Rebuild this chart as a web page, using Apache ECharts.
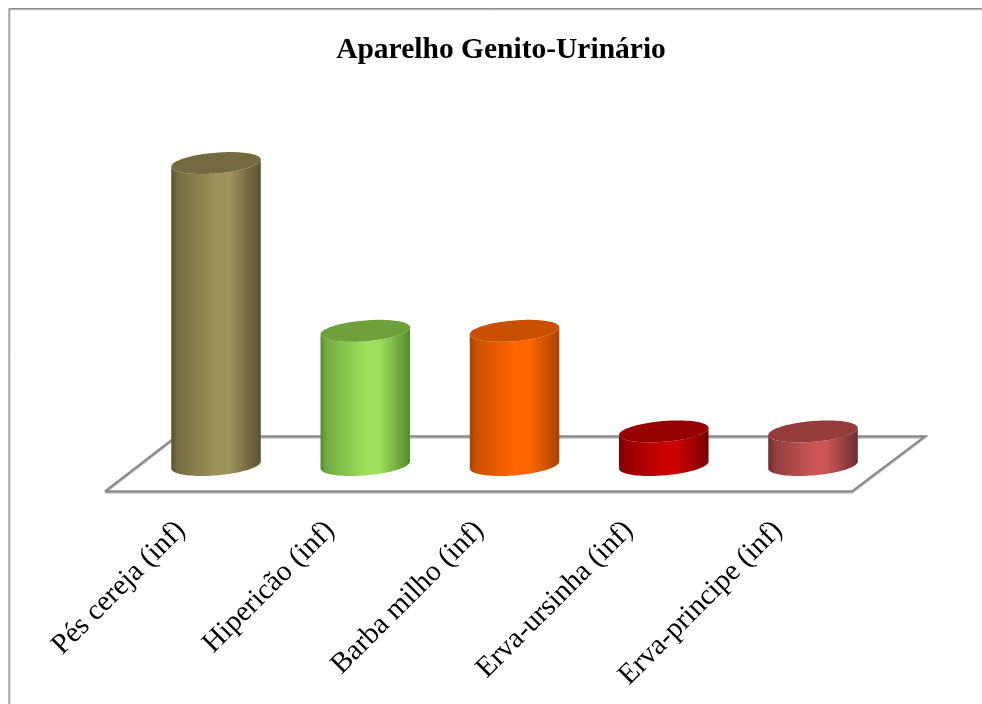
<!DOCTYPE html>
<html><head><meta charset="utf-8">
<style>html,body{margin:0;padding:0;background:#fff}#c{width:982px;height:704px}</style>
<script src="https://cdn.jsdelivr.net/npm/echarts@6/dist/echarts.min.js"></script>
</head><body><div id="c"></div>
<script>
const categories = ['Pés cereja (inf)', 'Hipericão (inf)', 'Barba milho (inf)', 'Erva-ursinha (inf)', 'Erva-principe (inf)'];
const values = [9, 4, 4, 1, 1];
const edgeColors = ['#5a5231', '#578a30', '#a84200', '#730000', '#6b2d2d'];
const midColors = ['#9d9259', '#9ce05b', '#ff6600', '#cc0000', '#cb5656'];
const topColors = ['#736a42', '#70a03c', '#c85000', '#960000', '#943c3c'];
const titleText = 'Aparelho Genito-Urinário';

const SERIF = '"Liberation Serif","Times New Roman",serif';
const chart = echarts.init(document.getElementById('c'), null, {renderer: 'canvas'});

function arc(cx, cy, a, b, sk, from, to, n) {
  const pts = [];
  for (let i = 0; i <= n; i++) {
    const t = from + (to - from) * i / n;
    pts.push([cx + a * Math.cos(t), cy + b * Math.sin(t) - sk * Math.cos(t)]);
  }
  return pts;
}

function renderCylinder(params, api) {
  const i = api.value(0);
  const base = api.coord([i, 0]);
  const top = api.coord([i, api.value(1)]);
  const a = api.size([1, 0])[0] * 0.3;
  const b = 10.4, sk = 3.5;
  const cx = base[0];
  const body = arc(cx, base[1], a, b, sk, Math.PI, 0, 48)
    .concat(arc(cx, top[1], a, b, sk, 0, Math.PI, 48));
  const mix = t => echarts.color.lerp(t, [midColors[i], edgeColors[i]]);
  return {
    type: 'group',
    children: [
      {
        type: 'polygon',
        shape: {points: body},
        style: {
          fill: new echarts.graphic.LinearGradient(0, 0, 1, 0, [
            {offset: 0, color: edgeColors[i]},
            {offset: 0.07, color: mix(0.6)},
            {offset: 0.5, color: midColors[i]},
            {offset: 0.66, color: midColors[i]},
            {offset: 0.88, color: mix(0.65)},
            {offset: 1, color: edgeColors[i]}
          ])
        }
      },
      {
        type: 'polygon',
        shape: {points: arc(cx, top[1], a, b, sk, 0, Math.PI * 2, 96)},
        style: {fill: topColors[i]}
      }
    ]
  };
}

const floorLine = (pts, color, w, z) => ({
  type: 'polyline', z: z, silent: true,
  shape: {points: pts},
  style: {stroke: color, lineWidth: w, fill: null, lineJoin: 'miter'}
});
const floorPts = [[105, 491.3], [176.5, 436.3], [925, 436.3], [852, 491.3], [105, 491.3]];
const floorShade = floorPts.map(p => [p[0], p[1] + 1.2]);

chart.setOption({
  animation: false,
  backgroundColor: '#ffffff',
  title: {
    text: titleText, left: 496, top: 30, textAlign: 'center',
    textStyle: {fontFamily: SERIF, fontWeight: 'bold', fontSize: 29.5, color: '#000'}
  },
  grid: [
    {left: 141.4, width: 746.25, top: 129.5, height: 335.5},
    {left: 106.4, width: 746.25, top: 129.5, height: 335.5}
  ],
  xAxis: [
    {type: 'category', data: categories, gridIndex: 0, show: false},
    {
      type: 'category', data: categories, gridIndex: 1,
      axisLine: {show: false}, axisTick: {show: false}, splitLine: {show: false},
      axisLabel: {rotate: 45, interval: 0, margin: 61, fontFamily: SERIF, fontSize: 29, color: '#000'}
    }
  ],
  yAxis: [
    {type: 'value', min: 0, max: 10, show: false, gridIndex: 0},
    {type: 'value', min: 0, max: 10, show: false, gridIndex: 1}
  ],
  graphic: [
    floorLine([[9.5, 704], [9.5, 9.5], [982, 9.5]], '#bcbcbc', 1.6, 1),
    floorLine([[9, 704], [9, 8.5], [982, 8.5]], '#8a8a8a', 1, 1),
    floorLine(floorShade, '#c4c4c4', 2.4, 1),
    floorLine(floorPts, '#8a8a8a', 2.2, 2)
  ],
  series: [{
    type: 'custom',
    xAxisIndex: 0,
    yAxisIndex: 0,
    renderItem: renderCylinder,
    encode: {x: 0, y: 1},
    z: 5,
    data: values.map((v, i) => [i, v])
  }]
});
</script></body></html>
